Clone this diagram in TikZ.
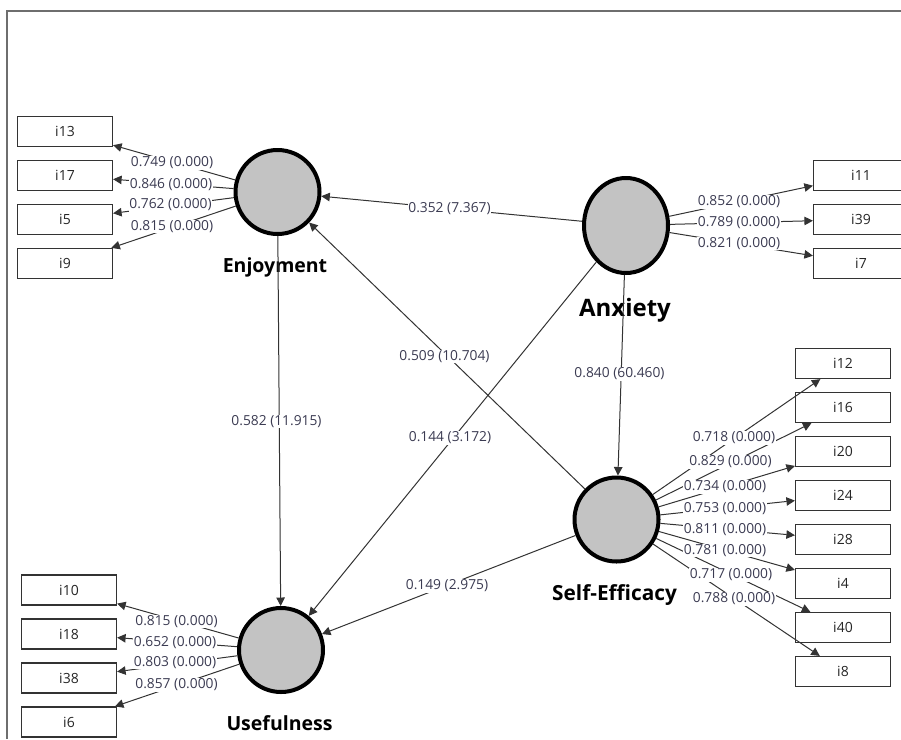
\documentclass[tikz,border=0pt]{standalone}
\usepackage{fontspec}
\setmainfont{Open Sans}
\usetikzlibrary{arrows.meta,shapes.geometric}
\definecolor{framecol}{HTML}{6E6E6E}
\definecolor{linecol}{HTML}{333333}
\definecolor{labcol}{HTML}{3B3B52}
\definecolor{lvfill}{HTML}{C3C3C3}
\tikzset{
 lv/.style={ellipse, draw=black, line width=4pt, fill=lvfill, minimum width=84pt, minimum height=84pt, inner sep=0pt},
 ind/.style={rectangle, draw=linecol, line width=1.2pt, fill=white, minimum width=95pt, minimum height=30pt, inner sep=0pt, font=\fontsize{14}{15}\selectfont, text=black!85},
 conn/.style={draw=linecol, line width=1pt, -{Triangle[length=8.5pt,width=8.5pt]}},
 coef/.style={fill=white, inner sep=0.5pt, text=labcol, font=\fontsize{13.8}{15}\selectfont},
 lvname/.style={anchor=base, font=\bfseries\fontsize{19.5}{21}\selectfont, text=black},
}
\begin{document}
\begin{tikzpicture}[x=1pt,y=-1pt]
\useasboundingbox (0,0) rectangle (901,739);
\clip (0,0) rectangle (901,739);
\draw[framecol, line width=2pt] (7,739) -- (7,11) -- (901,11);

% latent variables
\node[lv] (enj) at (277.5,192) {};
\node[lv, minimum height=95pt] (anx) at (626,225.5) {};
\node[lv] (se) at (616.5,519.5) {};
\node[lv] (use) at (281,650) {};

\node[lvname] (enjname) at (275,272) {Enjoyment};
\node[lvname, font=\bfseries\fontsize{24}{26}\selectfont] (anxname) at (625,316) {Anxiety};
\node[lvname, font=\bfseries\fontsize{20.8}{22}\selectfont] (sename) at (614.5,600) {Self-Efficacy};
\node[lvname] (usename) at (279.5,730) {Usefulness};

% indicators
\foreach \n/\y in {i13/131.5, i17/175.5, i5/219.5, i9/263.5} {\node[ind] (\n) at (65,\y) {\n};}
\foreach \n/\y in {i10/590, i18/634, i38/678, i6/722} {\node[ind] (\n) at (69,\y) {\n};}
\foreach \n/\y in {i11/175.5, i39/219.5, i7/263.5} {\node[ind] (\n) at (861,\y) {\n};}
\foreach \n/\y in {i12/363.5, i16/407.5, i20/451.5, i24/495.5, i28/539.5, i4/583.5, i40/627.5, i8/671.5} {\node[ind] (\n) at (843,\y) {\n};}

% inner model
\draw[conn] (anx) -- (enj);
\draw[conn] (se) -- (enj);
\draw[conn] (anx) -- (use);
\draw[conn] (anx) -- (se);
\draw[conn] (enj) -- (use);
\draw[conn] (se) -- (use);

% outer model
\foreach \n in {i13,i17,i5,i9} {\draw[conn] (enj) -- (\n);}
\foreach \n in {i10,i18,i38,i6} {\draw[conn] (use) -- (\n);}
\foreach \n in {i11,i39,i7} {\draw[conn] (anx) -- (\n);}
\foreach \n in {i12,i16,i20,i24,i28,i4,i40,i8} {\draw[conn] (se) -- (\n);}

% path coefficients
\node[coef] (p1) at (449.5,209) {0.352 (7.367)};
\node[coef] (p2) at (444.5,356.5) {0.509 (10.704)};
\node[coef] (p3) at (450,438) {0.144 (3.172)};
\node[coef] (p4) at (619.5,374) {0.840 (60.460)};
\node[coef] (p5) at (276.5,421.5) {0.582 (11.915)};
\node[coef] (p6) at (447,586) {0.149 (2.975)};

% loadings
\node[coef] (l13) at (172,163) {0.749 (0.000)};
\node[coef] (l17) at (171,185) {0.846 (0.000)};
\node[coef] (l5) at (170.5,205) {0.762 (0.000)};
\node[coef] (l9) at (172,226.5) {0.815 (0.000)};

\node[coef] (l11) at (739,202) {0.852 (0.000)};
\node[coef] (l39) at (739,223) {0.789 (0.000)};
\node[coef] (l7) at (739,243.5) {0.821 (0.000)};

\node[coef] (l12) at (734,438) {0.718 (0.000)};
\node[coef] (l16) at (730.5,462) {0.829 (0.000)};
\node[coef] (l20) at (725,487) {0.734 (0.000)};
\node[coef] (l24) at (725,508.5) {0.753 (0.000)};
\node[coef] (l28) at (725,530) {0.811 (0.000)};
\node[coef] (l4) at (725,550.5) {0.781 (0.000)};
\node[coef] (l40) at (731,575) {0.717 (0.000)};
\node[coef] (l8) at (734,599) {0.788 (0.000)};

\node[coef] (l10) at (176.5,621.5) {0.815 (0.000)};
\node[coef] (l18) at (175,643) {0.652 (0.000)};
\node[coef] (l38) at (175,662.5) {0.803 (0.000)};
\node[coef] (l6) at (176.5,685) {0.857 (0.000)};
\end{tikzpicture}
\end{document}
